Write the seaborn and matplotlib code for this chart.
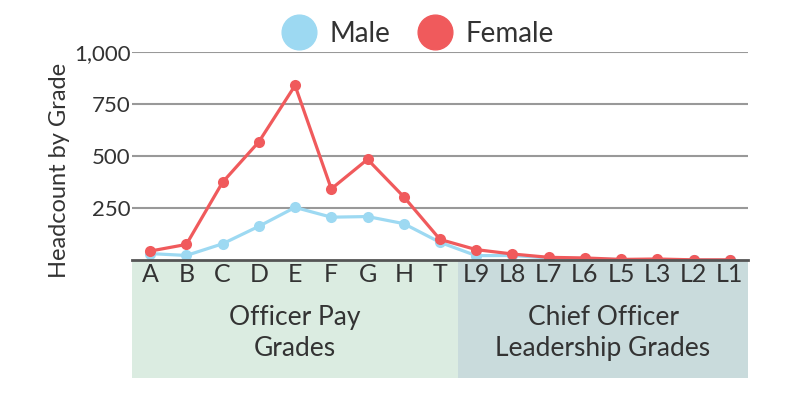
import pandas as pd
import matplotlib.pyplot as plt
import matplotlib.transforms as mtransforms
from matplotlib.lines import Line2D
from matplotlib.patches import Rectangle
import seaborn as sns

# data
grades = ["A", "B", "C", "D", "E", "F", "G", "H", "T",
          "L9", "L8", "L7", "L6", "L5", "L3", "L2", "L1"]
male = [31, 22, 78, 162, 253, 206, 209, 175, 85,
        21, 22, 10, 6, 2, 2, 0, 0]
female = [43, 75, 374, 568, 839, 342, 484, 304, 99,
          50, 29, 13, 10, 3, 5, 1, 1]
yticks = [250, 500, 750, 1000]
groups = ["Officer Pay\nGrades", "Chief Officer\nLeadership Grades"]
group_sizes = [9, 8]

male_col = "#9dd9f2"
female_col = "#f05a5c"
text_col = "#333333"

df = pd.DataFrame({
    "grade": grades * 2,
    "count": male + female,
    "gender": ["Male"] * len(grades) + ["Female"] * len(grades),
})
df["x"] = list(range(len(grades))) * 2

sns.set_style("white")
plt.rcParams["font.family"] = ["Lato", "DejaVu Sans"]

fig = plt.figure(figsize=(8, 3.97), dpi=100)
ax = fig.add_axes([0.165, 0.345, 0.77, 0.524])

sns.lineplot(data=df, x="x", y="count", hue="gender", sort=False,
             palette={"Male": male_col, "Female": female_col},
             hue_order=["Male", "Female"], marker="o", markersize=8,
             markeredgewidth=0, linewidth=2.3, legend=False, ax=ax)

ax.set_xlim(-0.5, len(grades) - 0.5)
ax.set_ylim(0, 1000)
ax.set_yticks(yticks)
ax.set_yticklabels([f"{v:,}" for v in yticks], fontsize=16, color=text_col)
ax.set_xticks(range(len(grades)))
ax.set_xticklabels(grades, fontsize=18, color=text_col)
ax.tick_params(axis="both", length=0)
ax.tick_params(axis="y", pad=1)
ax.tick_params(axis="x", pad=2)
ax.set_xlabel("")
ax.set_ylabel("Headcount by Grade", fontsize=17, color=text_col)
ax.yaxis.set_label_coords(-0.1, 0.43)
for v in yticks:
    ax.axhline(v, color="#999999", lw=1.5, zorder=0)
for s in ["top", "right", "left"]:
    ax.spines[s].set_visible(False)
ax.spines["bottom"].set_color("#555555")
ax.spines["bottom"].set_linewidth(2)

# group bands under the axis
trans = mtransforms.blended_transform_factory(ax.transData, ax.transAxes)
band_cols = ["#dbece1", "#c9dbdc"]
start = -0.5
for name, size, col in zip(groups, group_sizes, band_cols):
    ax.add_patch(Rectangle((start, -0.565), size, 0.565, transform=trans,
                           facecolor=col, edgecolor="none", clip_on=False, zorder=-1))
    ax.text(start + size / 2, -0.35, name, transform=trans, ha="center",
            va="center", fontsize=19, color=text_col, linespacing=1.3)
    start += size

handles = [Line2D([], [], ls="", marker="o", markersize=25, color=male_col, label="Male"),
           Line2D([], [], ls="", marker="o", markersize=25, color=female_col, label="Female")]
fig.legend(handles=handles, loc="upper center", bbox_to_anchor=(0.516, 1.01), ncol=2,
           frameon=False, fontsize=20, handletextpad=0.1, columnspacing=0.6,
           labelcolor=text_col)

fig.savefig("out.png", dpi=100)
